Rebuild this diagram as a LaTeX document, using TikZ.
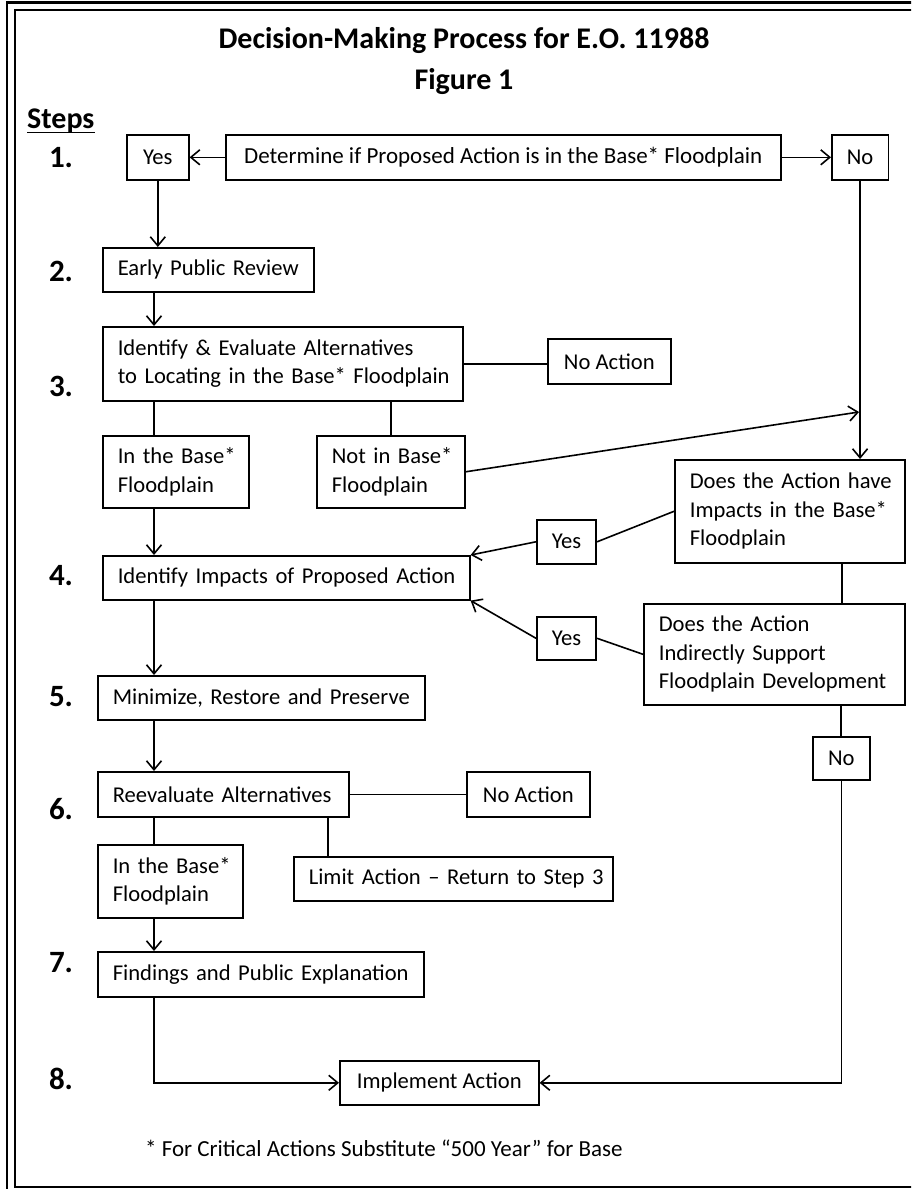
\documentclass[tikz,border=0pt]{standalone}
\usepackage{fontspec}
\setmainfont{Carlito}
\usetikzlibrary{arrows.meta}
\newcommand\bxf{\fontsize{22.6}{28.5}\selectfont}
\newcommand\dtf{\fontsize{23}{28.5}\selectfont}
\newcommand\ttlf{\fontsize{30}{34}\selectfont\bfseries}
\newcommand\stf{\fontsize{31}{35}\selectfont\bfseries}
\newcommand\bxn[7]{%
  \pgfmathsetmacro\bxw{#5-#3}\pgfmathsetmacro\bxh{#6-#4}\pgfmathsetmacro\bxt{#5-#3-30}%
  \node[minimum width=\bxw pt, minimum height=\bxh pt, text width=\bxt pt, #1] (#2) at (#3,#4) {#7};}
\begin{document}
\begin{tikzpicture}[x=1pt,y=-1pt,
  every node/.style={inner sep=0pt, text=black},
  bx/.style={draw, line width=1.6pt, anchor=north west, inner xsep=15pt, inner ysep=0pt, font=\bxf, align=left},
  cx/.style={bx, align=center, text width=},
  ln/.style={line width=1.6pt},
  arr/.style={ln, -{Straight Barb[length=9pt,width=15pt]}},
  stp/.style={font=\stf, anchor=base},
  frame/.style={line width=2.3pt}]
\useasboundingbox (0,0) rectangle (911,1189);
\clip (0,0) rectangle (911,1189);
% frames
\draw[frame] (7,1200) -- (7,2.5) -- (920,2.5);
\draw[frame] (920,10) -- (15,10) -- (15,1187) -- (920,1187);
% titles
\node[font=\ttlf, anchor=base] (title) at (464,48) {Decision-Making Process for E.O. 11988};
\node[font=\ttlf, anchor=base] (fig) at (464,89) {Figure 1};
\node[font=\ttlf, anchor=base west] (steps) at (27,128) {Steps};
\draw[ln] ([yshift=-4.5pt]steps.base west) -- ([yshift=-4.5pt]steps.base east);
% step numbers
\node[stp] (s1) at (61,167) {1.};
\node[stp] (s2) at (61,281) {2.};
\node[stp] (s3) at (61,396) {3.};
\node[stp] (s4) at (61,585) {4.};
\node[stp] (s5) at (61,706) {5.};
\node[stp] (s6) at (61,819) {6.};
\node[stp] (s7) at (61,972) {7.};
\node[stp] (s8) at (61,1089) {8.};
% boxes
\bxn{cx}{yes1}{126}{134}{188}{179}{Yes}
\bxn{cx,font=\dtf}{det}{225}{134}{780}{179}{Determine if Proposed Action is in the Base* Floodplain}
\bxn{cx}{no1}{831}{134}{887}{179}{No}
\bxn{bx}{epr}{102}{247}{313}{291}{\mbox{Early Public Review}}
\bxn{bx}{ide}{102}{326}{462}{400}{\mbox{Identify \& Evaluate Alternatives}\\\mbox{to Locating in the Base* Floodplain}}
\bxn{cx}{noa1}{547}{338}{670}{383}{No Action}
\bxn{bx}{inb1}{102}{435}{248}{507}{\mbox{In the Base*}\\Floodplain}
\bxn{bx}{nib}{316}{435}{464}{507}{\mbox{Not in Base*}\\Floodplain}
\bxn{bx}{does1}{674}{459}{904}{562}{\mbox{Does the Action have}\\\mbox{Impacts in the Base*}\\Floodplain}
\bxn{cx}{yes2}{536}{519}{595}{563}{Yes}
\bxn{bx}{iip}{102}{555}{469}{599}{\mbox{Identify Impacts of Proposed Action}}
\bxn{cx}{yes3}{536}{616}{595}{659}{Yes}
\bxn{bx}{does2}{643}{603}{904}{704}{\mbox{Does the Action}\\\mbox{Indirectly Support}\\\mbox{Floodplain Development}}
\bxn{bx}{min}{97}{675}{424}{719}{\mbox{Minimize, Restore and Preserve}}
\bxn{cx}{no2}{812}{736}{869}{779}{No}
\bxn{bx}{rev}{97}{771}{348}{816}{\mbox{Reevaluate Alternatives}}
\bxn{cx}{noa2}{466}{771}{589}{816}{No Action}
\bxn{bx}{inb2}{97}{844}{242}{917}{\mbox{In the Base*}\\Floodplain}
\bxn{bx}{lim}{293}{856}{612}{900}{\mbox{Limit Action – Return to Step 3}}
\bxn{bx}{fin}{97}{951}{423}{996}{\mbox{Findings and Public Explanation}}
\bxn{cx}{imp}{339}{1060}{538}{1104}{Implement Action}
% footnote
\node[font=\dtf, anchor=base west] (foot) at (145,1156) {* For Critical Actions Substitute “500 Year” for Base};
% helper coordinates
\coordinate (L) at (154,0);
\coordinate (R) at (391,0);
\coordinate (L2) at (328,0);
\coordinate (M) at (842,0);
\coordinate (W) at (841,0);
\coordinate (J) at (859,412);
% connectors
\draw[arr] (det.west) -- (yes1.east);
\draw[arr] (det.east) -- (no1.west);
\draw[arr] (yes1.south) -- (yes1.south |- epr.north);
\draw[arr] (epr.south -| L) -- (ide.north -| L);
\draw[ln] (ide.east) -- (ide.east -| noa1.west);
\draw[ln] (ide.south -| L) -- (inb1.north -| L);
\draw[ln] (ide.south -| R) -- (nib.north -| R);
\draw[arr] (nib.east) -- (J);
\draw[arr] (no1.south) -- (no1.south |- does1.north);
\draw[ln] (does1.west) -- (yes2.east);
\draw[arr] (yes2.west) -- (iip.north east);
\draw[ln] (does1.south -| M) -- (does2.north -| M);
\draw[ln] (does2.west) -- (yes3.east);
\draw[arr] (yes3.west) -- (iip.south east);
\draw[arr] (inb1.south -| L) -- (iip.north -| L);
\draw[arr] (iip.south -| L) -- (min.north -| L);
\draw[ln] (does2.south -| W) -- (no2.north -| W);
\draw[arr] (min.south -| L) -- (rev.north -| L);
\draw[ln] (rev.east) -- (rev.east -| noa2.west);
\draw[ln] (rev.south -| L) -- (inb2.north -| L);
\draw[ln] (rev.south -| L2) -- (lim.north -| L2);
\draw[arr] (inb2.south -| L) -- (fin.north -| L);
\draw[arr] (fin.south -| L) |- (imp.west);
\draw[arr] (no2.south) |- (imp.east);
\end{tikzpicture}
\end{document}
